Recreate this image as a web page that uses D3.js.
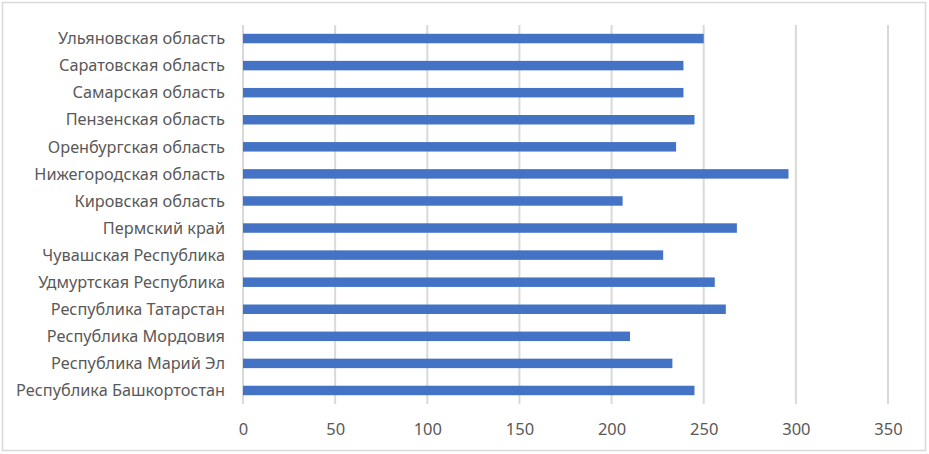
<!DOCTYPE html>
<html><head><meta charset="utf-8">
<script src="https://cdn.jsdelivr.net/npm/d3@7"></script>
<style>body{margin:0;background:#fff}svg{display:block}</style>
</head><body>
<script>
const categories = ["Ульяновская область","Саратовская область","Самарская область","Пензенская область","Оренбургская область","Нижегородская область","Кировская область","Пермский край","Чувашская Республика","Удмуртская Республика","Республика Татарстан","Республика Мордовия","Республика Марий Эл","Республика Башкортостан"];
const values = [250,239,239,245,235,296,206,268,228,256,262,210,233,245];
const ticks = [0,50,100,150,200,250,300,350];

const W=929,H=454;
const svg=d3.select("body").append("svg").attr("width",W).attr("height",H);
svg.append("rect").attr("x",2.5).attr("y",2.5).attr("width",923).attr("height",448)
  .attr("fill","#fff").attr("stroke","#d9d9d9").attr("stroke-width",1.5);

const x=d3.scaleLinear().domain([0,350]).range([243,888]);
const y=d3.scaleBand().domain(categories).range([25,404]).paddingInner(0.65).paddingOuter(0.325);
const font="'Noto Sans', sans-serif";

svg.append("g").selectAll("line").data(ticks).join("line")
  .attr("x1",d=>x(d)).attr("x2",d=>x(d)).attr("y1",25).attr("y2",404)
  .attr("stroke","#d9d9d9").attr("stroke-width",2);

svg.append("g").selectAll("rect").data(values).join("rect")
  .attr("x",x(0)).attr("y",(d,i)=>y(categories[i]))
  .attr("width",d=>x(d)-x(0)).attr("height",y.bandwidth()).attr("fill","#4472c4");

const xAxis=d3.axisBottom(x).tickValues(ticks).tickSize(0).tickPadding(0);
const gx=svg.append("g").attr("transform","translate(0,429)").call(xAxis);
gx.select(".domain").remove();
gx.selectAll("text").attr("font-family",font).attr("font-size",16.5).attr("fill","#595959").attr("dy","0.35em");

const yAxis=d3.axisLeft(y).tickSize(0).tickPadding(0);
const gy=svg.append("g").attr("transform","translate(225,0)").call(yAxis);
gy.select(".domain").remove();
gy.selectAll("text").attr("font-family",font).attr("font-size",16.3).attr("fill","#595959").attr("dy","0.35em");
</script>
</body></html>
